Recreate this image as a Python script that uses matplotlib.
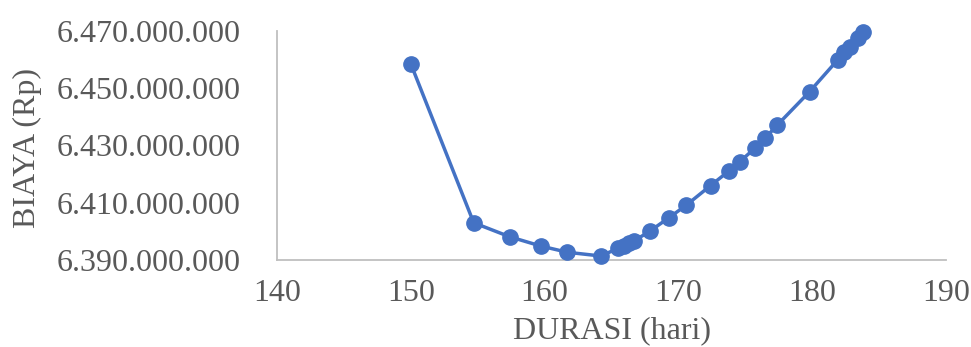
import matplotlib.pyplot as plt
from matplotlib.ticker import FuncFormatter

# --- Data: project duration (days) vs total cost (Rp) ---
durasi = [150.0, 154.7, 157.4, 159.7, 161.7, 164.2, 165.5, 165.9, 166.3, 166.7,
          167.9, 169.3, 170.6, 172.4, 173.8, 174.6, 175.7, 176.5, 177.4, 179.8,
          181.9, 182.4, 182.8, 183.4, 183.8]
biaya = [6458.5, 6403.0, 6398.1, 6394.9, 6392.7, 6391.4, 6394.1, 6394.9, 6395.8, 6396.7,
         6400.2, 6404.8, 6409.2, 6416.0, 6421.2, 6424.4, 6429.0, 6432.7, 6437.2, 6448.8,
         6459.9, 6462.8, 6464.5, 6467.4, 6469.8]
biaya = [b * 1e6 for b in biaya]

x_ticks = [140, 150, 160, 170, 180, 190]
y_ticks = [6.39e9, 6.41e9, 6.43e9, 6.45e9, 6.47e9]

plt.rcParams['font.family'] = ['Liberation Serif', 'DejaVu Serif']
text_color = '#595959'
fs = 23

fig = plt.figure(figsize=(9.71, 3.47), dpi=100)
ax = fig.add_axes([0.2853, 0.2507, 0.6890, 0.6600])

ax.plot(durasi, biaya, color='#4472C4', linewidth=2.5, marker='o',
        markersize=11, zorder=3, clip_on=False)

ax.set_xlim(140, 190)
ax.set_ylim(6.39e9, 6.47e9)
ax.set_xticks(x_ticks)
ax.set_yticks(y_ticks)
ax.yaxis.set_major_formatter(FuncFormatter(lambda v, p: f"{v:,.0f}".replace(",", ".")))

ax.tick_params(axis='both', length=0, labelsize=fs, labelcolor=text_color)
ax.tick_params(axis='x', pad=14)
ax.tick_params(axis='y', pad=26)

for side in ['top', 'right']:
    ax.spines[side].set_visible(False)
for side in ['left', 'bottom']:
    ax.spines[side].set_color('#BFBFBF')
    ax.spines[side].set_linewidth(1.3)

ax.set_xlabel("DURASI (hari)", fontsize=fs, color=text_color)
ax.set_ylabel("BIAYA (Rp)", fontsize=fs, color=text_color)
ax.xaxis.set_label_coords(0.5, -0.245)
ax.yaxis.set_label_coords(-0.351, 0.49)

fig.savefig("out.png", dpi=100)
